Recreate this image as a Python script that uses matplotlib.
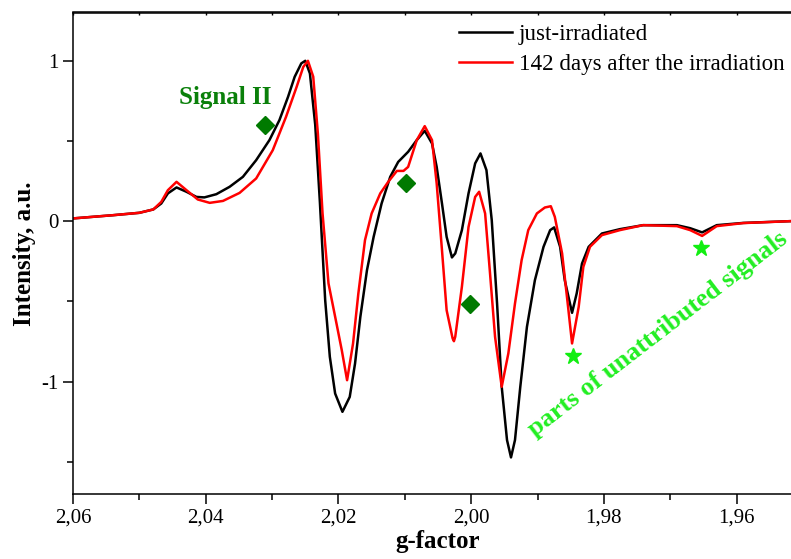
import matplotlib
matplotlib.use("Agg")
import matplotlib.pyplot as plt
from matplotlib.ticker import MultipleLocator, FuncFormatter, FixedLocator

plt.rcParams['font.family'] = ['Liberation Serif', 'DejaVu Serif']

g_black = [2.0600, 2.0540, 2.0500, 2.0479, 2.0467, 2.0457, 2.0444, 2.0429, 2.0414, 2.0402,
           2.0384, 2.0364, 2.0344, 2.0324, 2.0304, 2.0289, 2.0276, 2.0266, 2.0256, 2.0250,
           2.0243, 2.0235, 2.0228, 2.0220, 2.0213, 2.0205, 2.0194, 2.0183, 2.0175, 2.0167,
           2.0157, 2.0147, 2.0135, 2.0122, 2.0110, 2.0095, 2.0082, 2.0070, 2.0059, 2.0052,
           2.0044, 2.0037, 2.0029, 2.0024, 2.0014, 2.0004, 1.9994, 1.9986, 1.9977, 1.9969,
           1.9961, 1.9954, 1.9946, 1.9940, 1.9934, 1.9926, 1.9916, 1.9904, 1.9891, 1.9881,
           1.9875, 1.9866, 1.9859, 1.9848, 1.9841, 1.9833, 1.9823, 1.9803, 1.9776, 1.9741,
           1.9690, 1.9670, 1.9652, 1.9630, 1.9590, 1.9519, 1.9500]
I_black = [0.017, 0.037, 0.052, 0.073, 0.110, 0.173, 0.210, 0.183, 0.151, 0.148,
           0.168, 0.214, 0.276, 0.380, 0.505, 0.629, 0.774, 0.899, 0.983, 0.999,
           0.920, 0.600, 0.120, -0.492, -0.845, -1.074, -1.188, -1.095, -0.887, -0.596,
           -0.305, -0.098, 0.110, 0.276, 0.369, 0.432, 0.505, 0.563, 0.484, 0.338,
           0.110, -0.098, -0.226, -0.201, -0.056, 0.173, 0.360, 0.422, 0.318, 0.006,
           -0.513, -1.032, -1.364, -1.472, -1.364, -1.032, -0.659, -0.368, -0.160, -0.056,
           -0.039, -0.160, -0.368, -0.571, -0.450, -0.264, -0.160, -0.077, -0.050, -0.025,
           -0.025, -0.044, -0.070, -0.025, -0.011, 0.000, 0.000]

g_red = [2.0600, 2.0540, 2.0500, 2.0479, 2.0467, 2.0457, 2.0444, 2.0429, 2.0412, 2.0394,
         2.0374, 2.0349, 2.0324, 2.0299, 2.0279, 2.0263, 2.0253, 2.0246, 2.0238, 2.0231,
         2.0224, 2.0215, 2.0203, 2.0195, 2.0187, 2.0178, 2.0170, 2.0160, 2.0150, 2.0137,
         2.0125, 2.0112, 2.0102, 2.0095, 2.0082, 2.0070, 2.0059, 2.0052, 2.0044, 2.0037,
         2.0028, 2.0026, 2.0024, 2.0014, 2.0004, 1.9994, 1.9988, 1.9979, 1.9972, 1.9964,
         1.9954, 1.9944, 1.9934, 1.9924, 1.9914, 1.9901, 1.9889, 1.9880, 1.9874, 1.9863,
         1.9854, 1.9848, 1.9838, 1.9831, 1.9821, 1.9803, 1.9776, 1.9741, 1.9690, 1.9670,
         1.9652, 1.9630, 1.9590, 1.9519, 1.9500]
I_red = [0.017, 0.037, 0.052, 0.073, 0.120, 0.193, 0.245, 0.193, 0.135, 0.114,
         0.126, 0.176, 0.266, 0.442, 0.650, 0.837, 0.961, 0.999, 0.900, 0.545,
         0.050, -0.388, -0.637, -0.804, -0.991, -0.762, -0.450, -0.118, 0.048, 0.173,
         0.245, 0.313, 0.313, 0.338, 0.505, 0.592, 0.505, 0.235, -0.181, -0.555,
         -0.730, -0.748, -0.720, -0.409, -0.036, 0.151, 0.183, 0.048, -0.305, -0.721,
         -1.032, -0.824, -0.513, -0.243, -0.056, 0.048, 0.085, 0.093, 0.027, -0.201,
         -0.534, -0.762, -0.534, -0.285, -0.160, -0.087, -0.056, -0.025, -0.031, -0.056,
         -0.092, -0.031, -0.012, 0.000, 0.000]

diamond_g = [2.0311, 2.0098, 2.0002]
diamond_I = [0.598, 0.237, -0.517]
star_g = [1.9847, 1.9654]
star_I = [-0.841, -0.166]

legend_labels = ["just-irradiated", "142 days after the irradiation"]
x_ticks = [2.06, 2.04, 2.02, 2.00, 1.98, 1.96]
y_ticks = [-1, 0, 1]

fig = plt.figure(figsize=(7.91, 5.59), dpi=100)
ax = fig.add_axes([73 / 791, 1 - 494 / 559, (803 - 73) / 791, (494 - 12.5) / 559])

ax.plot(g_black, I_black, color='black', lw=1.8, label=legend_labels[0])
ax.plot(g_red, I_red, color='#ff0000', lw=1.8, label=legend_labels[1])

ax.plot(diamond_g, diamond_I, 'D', color='#007a00', ms=9, ls='none')
ax.plot(star_g, star_I, '*', color='#11ee11', ms=12, ls='none')

ax.text(2.0371, 0.773, "Signal II", color='#0a800a', fontsize=18, fontweight='bold',
        ha='center', va='center')
ax.text(1.9718, -0.705, "parts of unattributed signals", color='#22ee22', fontsize=19,
        fontweight='bold', rotation=37.6, rotation_mode='anchor', ha='center', va='center')

ax.set_xlim(2.06, 1.95)
ax.set_ylim(-1.7, 1.3)

ax.xaxis.set_major_locator(FixedLocator(x_ticks))
ax.xaxis.set_minor_locator(MultipleLocator(0.01))
ax.xaxis.set_major_formatter(FuncFormatter(lambda v, p: f"{v:.2f}".replace('.', ',')))
ax.yaxis.set_major_locator(FixedLocator(y_ticks))
ax.yaxis.set_minor_locator(MultipleLocator(0.5))
ax.yaxis.set_major_formatter(FuncFormatter(lambda v, p: f"{int(round(v))}"))

ax.tick_params(axis='both', which='major', direction='out', length=7.5, width=1.1,
               labelsize=15, pad=3)
ax.tick_params(axis='both', which='minor', direction='out', length=4, width=1.1)

top = ax.secondary_xaxis('top')
top.xaxis.set_major_locator(MultipleLocator(0.01))
top.tick_params(axis='x', which='major', direction='in', length=2.5, width=1.0, labeltop=False)
top.xaxis.set_minor_locator(FixedLocator([]))
for s in top.spines.values():
    s.set_linewidth(1.1)

for s in ax.spines.values():
    s.set_linewidth(1.1)

ax.set_xlabel("g-factor", fontsize=18, fontweight='bold', labelpad=2)
ax.set_ylabel("Intensity, a.u.", fontsize=18, fontweight='bold', labelpad=4)

ax.legend(loc='upper right', bbox_to_anchor=((796 - 73) / 730, 1.0),
          frameon=False, fontsize=16.6, handlelength=2.3, handletextpad=0.3,
          labelspacing=0.36, borderaxespad=0.0, borderpad=0.5)

fig.savefig("out.png", dpi=100)
